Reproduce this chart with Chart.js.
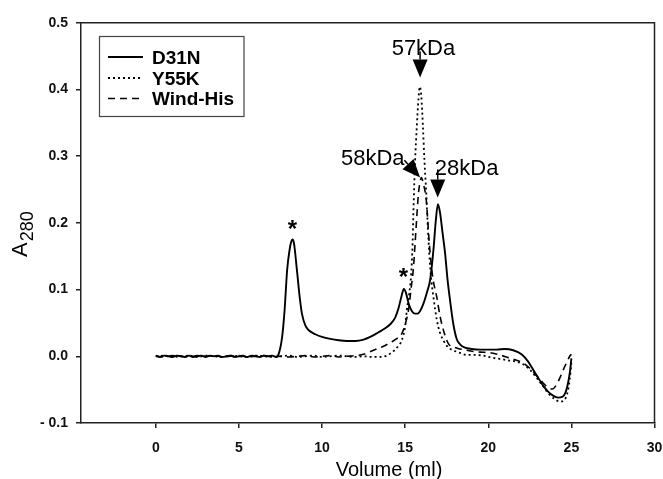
<!DOCTYPE html>
<html>
<head>
<meta charset="utf-8">
<style>
  html, body { margin: 0; padding: 0; background: #fff; }
  canvas { display: block; }
</style>
<script src="https://cdn.jsdelivr.net/npm/chart.js@4.4.1/dist/chart.umd.min.js"></script>
</head>
<body>
<canvas id="c" width="663" height="479"></canvas>
<script>
// ---------- DATA ----------
const seriesNames = ['D31N', 'Y55K', 'Wind-His'];

const d31nX = [0,0.25,0.5,0.75,1,1.25,1.5,1.75,2,2.25,2.5,2.75,3,3.25,3.5,3.75,4,4.25,4.5,4.75,5,5.25,5.5,5.75,6,6.25,6.5,6.75,7,7.25,
  7.4,7.6,7.75,7.9,8.05,8.15,8.23,8.32,8.49,8.65,8.79,9.0,9.2,9.6,10,10.5,11,11.5,12,12.5,12.9,13.4,13.8,14.1,14.4,14.6,14.8,14.92,15.05,15.2,15.4,15.6,15.75,15.9,16.1,16.3,16.5,16.7,16.85,16.97,17.1,17.25,17.4,17.55,17.7,17.9,18.1,18.3,18.6,19,19.5,20,20.5,21,21.5,22,22.4,22.7,23.0,23.3,23.6,23.9,24.2,24.45,24.65,24.8,24.92,25.0];
const d31nY = [0.001,-0.001,0.001,0,-0.001,0.001,0,-0.001,0.001,-0.001,0,0.001,-0.001,0.001,0,0.001,-0.001,0,0.001,-0.001,0,0.001,-0.001,0.001,0,-0.001,0.001,0,0.001,-0.001,
  0.004,0.029,0.07,0.129,0.16,0.172,0.175,0.168,0.129,0.09,0.064,0.046,0.039,0.033,0.029,0.026,0.024,0.023,0.023,0.025,0.029,0.036,0.042,0.048,0.058,0.072,0.092,0.101,0.095,0.08,0.068,0.064,0.064,0.068,0.079,0.095,0.114,0.159,0.205,0.228,0.215,0.185,0.155,0.115,0.084,0.048,0.026,0.018,0.013,0.011,0.01,0.01,0.01,0.011,0.009,0.003,-0.008,-0.02,-0.032,-0.044,-0.053,-0.059,-0.062,-0.061,-0.054,-0.04,-0.022,-0.003];

const y55kX = [0,0.5,1,1.5,2,2.5,3,3.5,4,4.5,5,5.5,6,6.5,7,7.5,8,8.5,9,9.5,10,10.5,11,11.5,12,12.5,13,13.5,13.9,14.1,14.4,14.6,14.8,15.0,15.1,15.25,15.35,15.45,15.5,15.6,15.7,15.8,15.88,15.97,16.07,16.16,16.27,16.4,16.55,16.7,16.9,17.1,17.3,17.6,17.9,18.3,18.7,19.2,19.7,20.2,20.7,21.2,21.7,22.1,22.5,22.9,23.3,23.7,24.0,24.3,24.55,24.75,24.9,25.0];
const y55kY = [0,0.001,-0.001,0,0.001,-0.001,0.001,0,-0.001,0.001,0,-0.001,0.001,0,-0.001,0,0.001,-0.001,0,0.001,-0.001,0,0.001,0,-0.001,0,-0.001,-0.001,0.001,0.004,0.01,0.016,0.024,0.045,0.069,0.095,0.119,0.17,0.219,0.294,0.344,0.385,0.404,0.39,0.344,0.294,0.244,0.175,0.12,0.089,0.055,0.035,0.024,0.013,0.009,0.005,0.002,0.002,0.001,-0.002,-0.004,-0.006,-0.008,-0.012,-0.02,-0.032,-0.045,-0.058,-0.064,-0.068,-0.066,-0.056,-0.035,-0.01];

const windX = [0,0.5,1,1.5,2,2.5,3,3.5,4,4.5,5,5.5,6,6.5,7,7.5,8,8.5,9,9.5,10,10.5,11,11.5,12,12.5,12.8,13.2,13.6,14.0,14.4,14.8,15.0,15.2,15.35,15.5,15.6,15.7,15.8,15.9,15.97,16.1,16.27,16.45,16.65,16.9,17.1,17.35,17.6,18.0,18.3,18.7,19.2,19.7,20.2,20.7,21.2,21.7,22.1,22.5,22.9,23.3,23.6,23.85,24.1,24.35,24.5,24.7,24.9,25.0];
const windY = [0,-0.001,0.001,0,-0.001,0.001,0,0.001,-0.001,0,0.001,-0.001,0,0.001,-0.001,0,-0.001,0,0.001,-0.001,0,0.001,-0.001,0,0.001,0.003,0.006,0.01,0.014,0.019,0.025,0.034,0.048,0.069,0.1,0.133,0.17,0.209,0.244,0.262,0.268,0.258,0.234,0.17,0.12,0.089,0.06,0.035,0.019,0.013,0.011,0.009,0.007,0.006,0.005,0.002,-0.002,-0.006,-0.01,-0.018,-0.029,-0.04,-0.047,-0.049,-0.043,-0.03,-0.021,-0.01,0.0,0.003];

const xTickValues = [0, 5, 10, 15, 20, 25, 30];
const yTickValues = [-0.1, 0.0, 0.1, 0.2, 0.3, 0.4, 0.5];
const yTickLabels = ['- 0.1', '0.0', '0.1', '0.2', '0.3', '0.4', '0.5'];

const xTitle = 'Volume (ml)';
const yTitleMain = 'A';
const yTitleSub = '280';

// annotations (data coordinates)
const annotLabels = ['57kDa', '58kDa', '28kDa'];
const annotLabelX = [16.1, 13.05, 18.7];
const annotLabelY = [0.463, 0.298, 0.283];
const arrowTailX = [15.9, 14.95, 16.96];
const arrowTailY = [0.457, 0.294, 0.28];
const arrowTipX = [15.9, 15.9, 16.96];
const arrowTipY = [0.418, 0.268, 0.238];
const starX = [8.22, 14.9];
const starY = [0.198, 0.126];

// ---------- CHART ----------
const FONT = '"Liberation Sans", Arial, Helvetica, sans-serif';
Chart.defaults.font.family = FONT;

const toPts = (xs, ys) => xs.map((x, i) => ({ x: x, y: ys[i] }));
const lineStyles = [
  { dash: [], width: 1.9 },
  { dash: [2, 3], width: 1.8 },
  { dash: [7, 5], width: 1.6 }
];
const seriesData = [toPts(d31nX, d31nY), toPts(y55kX, y55kY), toPts(windX, windY)];

function centerText(ctx, text, cx, cy) {
  const m = ctx.measureText(text);
  ctx.textBaseline = 'alphabetic';
  ctx.fillText(text, cx, cy + (m.actualBoundingBoxAscent - m.actualBoundingBoxDescent) / 2);
}

const decor = {
  id: 'decor',
  afterDraw(chart) {
    const ctx = chart.ctx, ca = chart.chartArea;
    const xs = chart.scales.x, ys = chart.scales.y;
    ctx.save();
    // frame top/right
    ctx.strokeStyle = '#222';
    ctx.lineWidth = 1.5;
    ctx.beginPath();
    ctx.moveTo(ca.left, ca.top);
    ctx.lineTo(ca.right, ca.top);
    ctx.lineTo(ca.right, ca.bottom);
    ctx.stroke();

    // legend
    const lx = 99.5, ly = 36.5, lw = 144.5, lh = 80;
    ctx.fillStyle = '#fff';
    ctx.fillRect(lx, ly, lw, lh);
    ctx.strokeStyle = '#444';
    ctx.lineWidth = 1.2;
    ctx.strokeRect(lx, ly, lw, lh);
    const rows = [57, 78, 98.5];
    ctx.fillStyle = '#000';
    ctx.font = 'bold 19px ' + FONT;
    ctx.textAlign = 'left';
    seriesNames.forEach((name, i) => {
      ctx.strokeStyle = '#000';
      ctx.lineWidth = lineStyles[i].width;
      ctx.setLineDash(lineStyles[i].dash);
      ctx.beginPath();
      ctx.moveTo(108, rows[i]);
      ctx.lineTo(143, rows[i]);
      ctx.stroke();
      ctx.setLineDash([]);
      centerText(ctx, name, 152, rows[i]);
    });

    // annotation labels
    ctx.font = '22px ' + FONT;
    ctx.textAlign = 'center';
    annotLabels.forEach((t, i) => {
      centerText(ctx, t, xs.getPixelForValue(annotLabelX[i]), ys.getPixelForValue(annotLabelY[i]));
    });
    // arrows
    ctx.fillStyle = '#000';
    ctx.strokeStyle = '#000';
    ctx.lineWidth = 1.5;
    arrowTipX.forEach((_, i) => {
      const x0 = xs.getPixelForValue(arrowTailX[i]), y0 = ys.getPixelForValue(arrowTailY[i]);
      const x1 = xs.getPixelForValue(arrowTipX[i]), y1 = ys.getPixelForValue(arrowTipY[i]);
      const dx = x1 - x0, dy = y1 - y0, L = Math.hypot(dx, dy);
      const ux = dx / L, uy = dy / L;
      const hl = 18, hw = 7.5;
      const bx = x1 - ux * hl, by = y1 - uy * hl;
      ctx.beginPath();
      ctx.moveTo(x0, y0);
      ctx.lineTo(bx, by);
      ctx.stroke();
      ctx.beginPath();
      ctx.moveTo(x1, y1);
      ctx.lineTo(bx - uy * hw, by + ux * hw);
      ctx.lineTo(bx + uy * hw, by - ux * hw);
      ctx.closePath();
      ctx.fill();
    });
    // asterisks
    ctx.font = 'bold 24px ' + FONT;
    starX.forEach((x, i) => {
      centerText(ctx, '*', xs.getPixelForValue(x), ys.getPixelForValue(starY[i]));
    });

    // x title
    ctx.font = '20px ' + FONT;
    ctx.textAlign = 'center';
    ctx.textBaseline = 'alphabetic';
    ctx.fillText(xTitle, 389, 476);

    // y title (rotated, with subscript)
    ctx.save();
    ctx.translate(27, 257);
    ctx.rotate(-Math.PI / 2);
    ctx.textAlign = 'left';
    ctx.textBaseline = 'alphabetic';
    ctx.font = '22px ' + FONT;
    ctx.fillText(yTitleMain, 0, 0);
    const wA = ctx.measureText(yTitleMain).width;
    ctx.font = '18px ' + FONT;
    ctx.fillText(yTitleSub, wA + 1, 6);
    ctx.restore();

    ctx.restore();
  }
};

new Chart(document.getElementById('c'), {
  type: 'scatter',
  data: {
    datasets: seriesNames.map((name, i) => ({
      label: name,
      data: seriesData[i],
      showLine: true,
      borderColor: '#000',
      backgroundColor: '#000',
      borderWidth: lineStyles[i].width,
      borderDash: lineStyles[i].dash,
      pointRadius: 0,
      tension: 0.4,
      cubicInterpolationMode: 'monotone',
      fill: false
    }))
  },
  options: {
    responsive: false,
    animation: false,
    devicePixelRatio: 1,
    layout: { padding: { left: 0, right: 8.5, top: 22.7, bottom: 0 } },
    plugins: { legend: { display: false }, tooltip: { enabled: false } },
    scales: {
      x: {
        type: 'linear',
        min: -4.5,
        max: 30,
        afterBuildTicks(s) { s.ticks = xTickValues.map(v => ({ value: v })); },
        afterFit(s) { s.height = 56; s.paddingLeft = 0; s.paddingRight = 0; },
        ticks: { font: { size: 14, weight: 'bold' }, color: '#111', padding: 12, maxRotation: 0, autoSkip: false },
        grid: { display: true, drawOnChartArea: false, drawTicks: true, tickLength: 5, color: '#222', lineWidth: 1.5 },
        border: { display: true, color: '#222', width: 1.5 }
      },
      y: {
        type: 'linear',
        min: -0.1,
        max: 0.5,
        afterBuildTicks(s) { s.ticks = yTickValues.map(v => ({ value: v })); },
        afterFit(s) { s.width = 81; s.paddingTop = 0; s.paddingBottom = 0; },
        ticks: {
          font: { size: 14, weight: 'bold' }, color: '#111', padding: 8, autoSkip: false,
          callback: (v, i) => yTickLabels[i]
        },
        grid: { display: true, drawOnChartArea: false, drawTicks: true, tickLength: 5, color: '#222', lineWidth: 1.5 },
        border: { display: true, color: '#222', width: 1.5 }
      }
    }
  },
  plugins: [decor]
});
</script>
</body>
</html>
